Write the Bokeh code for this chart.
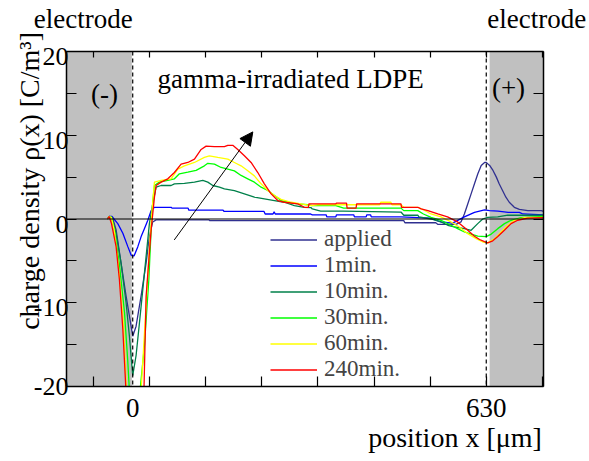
import numpy as np
from bokeh.plotting import figure
from bokeh.models import (Range1d, LinearAxis, FixedTicker, Span, BoxAnnotation,
                          Label, Arrow, NormalHead, Legend, LegendItem)
from bokeh.embed import file_html
from bokeh.resources import INLINE

# ---------------- data ----------------
series_names = ["applied", "1min.", "10min.", "30min.", "60min.", "240min."]
series_colors = ["#303090", "#0000ff", "#00804a", "#00ff00", "#ffff00", "#ff0000"]

applied_x = [-45, -40, -36, -29.6, -20.7, -11.8, -2.9, 0, 6, 14.9, 23.8, 29.7, 35.6, 41.7,
             136, 137, 483, 485, 540, 544, 576, 585, 591, 597, 603, 609, 615, 621, 627, 630,
             636, 642, 648, 653, 659, 665, 671, 680, 689, 704, 728, 732]
applied_y = [0, 0.3, 0.2, -1.3, -5.3, -9.2, -12.8, -14, -12.8, -9.2, -5.3, -2.1, -0.35, -0.1,
             -0.1, -0.2, -0.2, -0.45, -0.45, -0.65, -0.65, -0.35, 0.6, 1.8, 3.0, 4.2, 5.4, 6.4, 6.75, 6.75,
             6.4, 5.8, 5.0, 4.2, 3.4, 2.6, 2.0, 1.4, 1.15, 1.0, 1.0, 0.9]

min1_x = [-45, -42, -37, -26.6, -17.6, -8.7, -2.9, -1, 2.5, 9.1, 15, 20.8, 26.9, 32.8, 38.7,
          68.4, 70, 98.7, 100, 161, 163, 234, 236, 250, 252, 254, 317, 320, 344.6, 346, 362, 363,
          394, 395, 416, 417, 424, 425, 478, 530, 549, 570, 591, 609, 627, 636, 651, 669, 689, 695, 732]
min1_y = [0, 0.3, 0.3, -0.55, -1.7, -3.3, -4.3, -4.4, -4.4, -3.3, -2.1, -1.15, -0.15, 1.0, 1.4,
          1.4, 1.3, 1.3, 1.05, 1.05, 0.9, 0.9, 0.6, 0.6, 0.85, 0.6, 0.6, 0.5, 0.5, 0.25, 0.25, 0.5,
          0.5, 0.25, 0.25, 0.5, 0.5, 0.25, 0.25, 0.1, -0.35, -0.5, 0.25, 0.8, 1.1, 1.0, 0.95, 0.8, 0.8, 0.6, 0.5]

min10_x = [-45, -42, -37, -29.6, -20.7, -11.8, -5.9, -1, 0, 6, 12, 18, 23.8, 29.7, 35.6, 41.7,
           50.6, 68.4, 74.3, 92.1, 110, 124.9, 133.8, 142.7, 154.5, 163.4, 181.2, 199, 216.8,
           234.6, 252.5, 270.3, 288.1, 305.9, 318, 320, 335, 376, 478, 483, 508, 510, 531.5,
           549.4, 561.4, 573.1, 591, 603, 614.8, 623.7, 632.6, 650.5, 668.3, 732]
min10_y = [0, 0.3, 0.2, -1.75, -5.3, -10, -14, -17.9, -18.7, -16.3, -12.4, -8.4, -4.5, -0.55, 1.8, 3.8,
           4.0, 4.0, 4.2, 4.25, 4.4, 4.6, 4.4, 4.0, 3.8, 3.6, 3.4, 3.0, 2.6,
           2.4, 2.2, 2.0, 1.6, 1.4, 1.35, 1.2, 0.95, 0.95, 0.83, 0.45, 0.45, 0.25, 0.0,
           -0.35, -0.75, -0.95, -1.15, -1.35, -0.55, 0.0, 0.2, 0.25, 0.45, 0.45]

min30_x = [-45, -42, -38, -32.8, -23.9, -14.6, -8.7, -5.9, 0, 8, 13, 20.9, 28.7, 32.8, 35.9, 38.7,
           47.6, 62.5, 74.3, 83.2, 98.2, 113, 127.7, 133.8, 145.6, 157.5, 169.4, 181.2, 193.1,
           205, 216.8, 228.8, 240.7, 252.5, 264.4, 276.3, 294.1, 312, 320, 362, 376, 478, 483,
           508, 518, 531.5, 549.4, 567.2, 579, 591, 603, 614.8, 630, 638.9, 650.5, 662.5, 674.3,
           692.2, 732]
min30_y = [0, 0.3, 0.2, -1.3, -5.3, -11.2, -17.1, -20.5, -25, -25, -20.5, -15.1, -7.25, -1.3, 2.2, 4.0,
           4.4, 4.6, 4.8, 5.4, 5.6, 5.8, 6.35, 6.65, 6.55, 6.15, 5.95, 5.75, 5.2,
           4.8, 4.4, 3.8, 3.4, 2.8, 2.2, 2.0, 1.8, 1.7, 1.6, 1.6, 1.3, 1.3, 1.0,
           1.0, 0.6, 0.2, -0.15, -0.75, -1.15, -1.55, -1.8, -2.05, -2.1, -1.8, -1.15, -0.55, -0.15,
           0.15, 0.3]

min60_x = [-45, -42, -38, -33, -26, -17, -11, -5, 10, 15, 24, 30, 35, 38.7, 50.6, 68.4, 80.3,
           92.1, 110, 127.7, 136.6, 151.6, 169.4, 181.2, 193.1, 205, 216.8, 228.8, 240.7, 252.5,
           264.4, 282.2, 300, 317.9, 330, 440, 442, 460, 462, 478, 483, 508, 518, 531.5, 549.4,
           567.2, 582, 597, 612, 624, 632.6, 644.5, 656.4, 668.3, 680.2, 698, 732]
min60_y = [0, 0.3, 0.2, -1.3, -5.3, -12, -20.5, -25, -25, -20.5, -10, -3, 1.5, 4.4, 4.6, 4.8, 5.95,
           6.35, 6.75, 7.35, 7.55, 7.35, 7.15, 6.75, 6.35, 5.75, 5.15, 4.2, 3.4, 2.8,
           2.35, 2.0, 1.8, 1.6, 1.7, 1.7, 2.0, 2.0, 1.7, 1.7, 1.4, 1.4, 1.1, 0.6, 0.25,
           -0.35, -0.95, -1.75, -2.35, -2.75, -2.85, -2.35, -1.55, -0.75, -0.15, 0.15, 0.2]

min240_x = [-45, -42, -38, -29.6, -23.7, -17.6, -12, -5, 15, 20, 23.9, 32.8, 38.7, 41.7, 50.6,
            62.5, 74.3, 86.2, 98.2, 110, 121.9, 130.8, 145.6, 163.4, 169.4, 178.3, 187.2, 199,
            210.9, 222.9, 234.6, 246.6, 258.5, 270.3, 294.1, 305.9, 313, 314, 362, 363, 381, 382,
            398, 399, 478, 479, 508, 514, 526, 543.6, 561, 579, 597, 609, 618, 627, 632.6, 641.6,
            650.5, 662.3, 674.2, 686, 704, 732]
min240_y = [0, 0.3, -0.5, -3.3, -7.25, -13.2, -20.5, -25, -25, -20.5, -9.2, -1.3, 2.6, 4.0, 4.4,
            4.8, 5.55, 6.55, 6.75, 7.15, 8.3, 8.7, 8.65, 8.65, 8.8, 8.8, 8.3, 7.55,
            6.75, 5.55, 4.2, 3.0, 2.2, 2.0, 1.8, 1.4, 1.4, 1.8, 1.8, 1.9, 1.9, 1.3,
            1.3, 1.8, 1.8, 1.4, 1.4, 1.2, 1.0, 0.6, 0.25, -0.35, -1.35, -2.05, -2.45, -2.7, -2.85, -2.6,
            -2.1, -1.35, -0.55, -0.15, 0.1, 0.15]

series_x = [applied_x, min1_x, min10_x, min30_x, min60_x, min240_x]
series_y = [applied_y, min1_y, min10_y, min30_y, min60_y, min240_y]

x_ticks = [-70, 30, 130, 230, 330, 430, 530, 630, 730]
x_label_ticks = [0, 630]
y_ticks = [-20, -15, -10, -5, 0, 5, 10, 15, 20]
y_tick_labels = ["-20", "-10", "0", "10", "20"]
y_tick_values = [-20, -10, 0, 10, 20]
electrode_left, electrode_right = 0, 630
x_title = "position x [\u03bcm]"
y_title = "charge density  \u03c1(x) [C/m\u00b3]"

# ---------------- layout ----------------
W, H = 589, 461
FL, FR, FT, FB = 66, 543, 48, 386
X0, X1 = -118, 732
Y0, Y1 = -20, 20
FONT = "Liberation Serif"


def px2x(px):
    return X0 + (px - FL) * (X1 - X0) / (FR - FL)


def py2y(py):
    return Y1 - (py - FT) * (Y1 - Y0) / (FB - FT)


p = figure(width=W, height=H, x_range=Range1d(X0, X1), y_range=Range1d(Y0, Y1),
           output_backend="svg", toolbar_location=None,
           x_axis_location=None, y_axis_location=None,
           min_border_left=FL, min_border_right=W - FR,
           min_border_top=FT, min_border_bottom=H - FB)
p.xgrid.visible = False
p.ygrid.visible = False
p.outline_line_color = None
p.background_fill_color = "white"
p.border_fill_color = "white"


def base_axis(ticks, minor, minor_len, **kw):
    opts = dict(major_tick_in=0, major_tick_out=0,
                minor_tick_in=minor_len, minor_tick_out=0,
                axis_line_width=1.5, axis_line_color="black",
                major_tick_line_color="black", minor_tick_line_color="black",
                minor_tick_line_width=1.2,
                major_label_text_font=FONT, major_label_text_font_size="26px",
                major_label_text_color="black")
    opts.update(kw)
    return LinearAxis(ticker=FixedTicker(ticks=ticks, minor_ticks=minor), **opts)


def text_axis(pos, text, standoff, **kw):
    # axis with no line and no ticks, used only to carry one caption outside the frame
    opts = dict(axis_line_alpha=0, major_tick_in=0, major_tick_out=0,
                minor_tick_in=0, minor_tick_out=0, major_label_standoff=standoff,
                major_label_overrides={pos: text},
                major_label_text_font=FONT, major_label_text_font_size="28px",
                major_label_text_color="black")
    opts.update(kw)
    return LinearAxis(ticker=FixedTicker(ticks=[pos]), **opts)


# bottom axis: ticks every 100 um, labels at the electrode boundaries
p.add_layout(base_axis(x_label_ticks, x_ticks, 10, major_label_standoff=12,
                       major_label_text_font_size="27px"), "below")
# x title, right aligned under the frame
p.add_layout(text_axis(round(px2x(454.5), 1), x_title, 2), "below")

# top axis: short ticks, electrode captions
el_pos = [-88, 720]
p.add_layout(base_axis(el_pos, x_ticks, 6, major_label_standoff=18,
                       major_label_text_font_size="27px",
                       major_label_overrides={el_pos[0]: "electrode", el_pos[1]: "electrode"}),
             "above")

# left axis: labels sit a little below their ticks as in the original
shift = 0.6
lab_pos = [v if v == -20 else v - shift for v in y_tick_values]
p.add_layout(base_axis(lab_pos, y_ticks, 10, major_label_standoff=-2,
                       major_label_overrides={k: s for k, s in zip(lab_pos, y_tick_labels)}),
             "left")
# y title (vertical text)
p.add_layout(text_axis(round(py2y(175), 2), y_title, -15, major_label_orientation="vertical"), "left")

# right axis: ticks only
p.add_layout(base_axis([], y_ticks, 10, major_label_text_alpha=0,
                       major_label_text_font_size="1px"), "right")

# electrode regions
p.add_layout(BoxAnnotation(left=X0, right=electrode_left - 1.5, bottom=Y0, top=Y1,
                           fill_color="#c0c0c0", fill_alpha=1, line_alpha=0, level="underlay"))
p.add_layout(BoxAnnotation(left=electrode_right + 6, right=X1, bottom=Y0, top=Y1,
                           fill_color="#c0c0c0", fill_alpha=1, line_alpha=0, level="underlay"))

# curves
renderers = []
for xs, ys, c in zip(series_x, series_y, series_colors):
    renderers.append(p.line(xs, ys, line_color=c, line_width=1.3))

# zero line and electrode boundaries
p.add_layout(Span(location=0, dimension="width", line_color="black", line_width=1.2))
for loc in (electrode_left, electrode_right):
    p.add_layout(Span(location=loc, dimension="height", line_color="black",
                      line_width=1.2, line_dash="4 3"))

# arrow
arrow_start = (74, -2.5)
arrow_end = (214, 10.4)
p.add_layout(Arrow(end=NormalHead(size=13, fill_color="black", line_color="black", line_width=1),
                   x_start=arrow_start[0], y_start=arrow_start[1],
                   x_end=arrow_end[0], y_end=arrow_end[1],
                   line_color="black", line_width=1))

# legend
legend = Legend(items=[LegendItem(label=n, renderers=[r]) for n, r in zip(series_names, renderers)],
                location=(204, 4), padding=0, margin=0, spacing=0,
                glyph_width=47, glyph_height=25, label_height=25, label_standoff=7,
                label_text_font=FONT, label_text_font_size="23px",
                border_line_alpha=0, background_fill_alpha=0)
p.add_layout(legend)


def txt(text, px, py, size="27px", align="left", baseline="alphabetic"):
    p.add_layout(Label(x=px2x(px), y=py2y(py), text=text, text_font=FONT,
                       text_font_size=size, text_align=align, text_baseline=baseline,
                       text_color="black"))


txt("(-)", 104, 91, align="center", baseline="middle")
txt("(+)", 508, 85, align="center", baseline="middle")
txt("gamma-irradiated LDPE", 157, 76)

open("out.html", "w").write(file_html(p, INLINE))
